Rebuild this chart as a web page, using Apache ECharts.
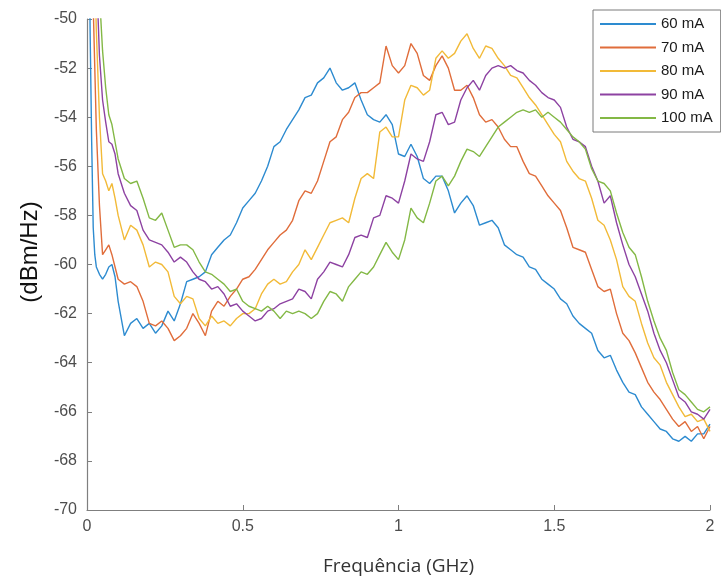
<!DOCTYPE html>
<html>
<head>
<meta charset="utf-8">
<script src="https://cdn.jsdelivr.net/npm/echarts@6/dist/echarts.min.js"></script>
<style>
html,body{margin:0;padding:0;background:#fff;}
#chart{width:721px;height:581px;}
</style>
</head>
<body>
<div id="chart"></div>
<script>
// Frequency grid (GHz)
const freq = [0.005,0.01,0.015,0.02,0.025,0.03,0.04,0.05,0.06,0.07,0.08,0.09,0.10,
  0.12,0.14,0.16,0.18,0.20,0.22,0.24,0.26,0.28,0.30,
  0.32,0.34,0.36,0.38,0.40,0.42,0.44,0.46,0.48,0.50,
  0.52,0.54,0.56,0.58,0.60,0.62,0.64,0.66,0.68,0.70,
  0.72,0.74,0.76,0.78,0.80,0.82,0.84,0.86,0.88,0.90,
  0.92,0.94,0.96,0.98,1.00,1.02,1.04,1.06,1.08,1.10,
  1.12,1.14,1.16,1.18,1.20,1.22,1.24,1.26,1.28,1.30,
  1.32,1.34,1.36,1.38,1.40,1.42,1.44,1.46,1.48,1.50,
  1.52,1.54,1.56,1.58,1.60,1.62,1.64,1.66,1.68,1.70,
  1.72,1.74,1.76,1.78,1.80,1.82,1.84,1.86,1.88,1.90,
  1.92,1.94,1.96,1.98,2.00];

const seriesNames = ['60 mA','70 mA','80 mA','90 mA','100 mA'];

const p60 = [-44,-50.5,-55,-58.5,-59.6,-60.1,-60.4,-60.6,-60.4,-60.1,-60.0,-60.5,-61.5,
  -62.9,-62.4,-62.2,-62.6,-62.4,-62.8,-62.5,-61.9,-62.3,-61.6,
  -60.7,-60.6,-60.5,-60.3,-59.6,-59.3,-59.0,-58.8,-58.3,-57.7,
  -57.4,-57.1,-56.6,-56.0,-55.2,-55.0,-54.5,-54.1,-53.7,-53.2,
  -53.1,-52.6,-52.4,-52.0,-52.6,-52.9,-52.8,-52.6,-53.3,-53.9,
  -54.1,-54.2,-53.9,-54.3,-55.5,-55.6,-55.1,-55.6,-56.5,-56.7,
  -56.4,-56.4,-57.0,-57.9,-57.5,-57.2,-57.6,-58.4,-58.3,-58.2,
  -58.5,-59.2,-59.4,-59.6,-59.7,-60.1,-60.2,-60.6,-60.8,-61.0,
  -61.4,-61.6,-62.1,-62.4,-62.6,-62.8,-63.5,-63.8,-63.7,-64.3,
  -64.8,-65.2,-65.3,-65.8,-66.1,-66.4,-66.7,-66.8,-67.1,-67.2,
  -67.0,-67.2,-66.9,-66.9,-66.5];

const p70 = [-40,-44,-47,-49.5,-52,-54.5,-57.6,-59.6,-59.4,-59.2,-59.6,-60.1,-60.6,
  -60.8,-60.7,-60.9,-61.5,-62.4,-62.5,-62.3,-62.6,-63.1,-62.9,
  -62.6,-62.0,-62.4,-62.9,-61.9,-61.5,-61.7,-61.3,-61.0,-60.6,
  -60.5,-60.2,-59.8,-59.4,-59.1,-58.8,-58.6,-58.2,-57.4,-57.0,
  -57.1,-56.6,-55.8,-55.0,-54.8,-54.1,-53.8,-53.2,-53.0,-53.0,
  -52.8,-52.6,-51.1,-51.9,-52.2,-51.9,-51.0,-51.4,-52.3,-52.5,
  -51.9,-51.5,-52.0,-52.9,-52.9,-52.7,-53.2,-53.9,-54.2,-54.1,
  -54.4,-54.9,-55.2,-55.2,-55.8,-56.3,-56.4,-56.8,-57.2,-57.5,
  -57.8,-58.5,-59.3,-59.4,-59.5,-60.2,-60.9,-61.1,-61.0,-62.0,
  -62.8,-63.1,-63.6,-64.2,-64.8,-65.2,-65.5,-65.9,-66.3,-66.6,
  -66.4,-66.8,-66.6,-67.1,-66.6];

const p80 = [-38,-40,-43,-45.5,-48,-50.5,-54,-56.3,-56.6,-57.0,-56.7,-57.3,-58.0,
  -59.0,-58.4,-58.6,-59.2,-60.1,-59.9,-60.0,-60.3,-61.3,-61.6,
  -61.3,-61.4,-62.2,-62.5,-62.1,-62.4,-62.3,-62.5,-62.2,-62.0,
  -62.0,-61.8,-61.2,-60.8,-60.6,-60.8,-60.7,-60.3,-60.0,-59.4,
  -59.8,-59.3,-58.8,-58.3,-58.2,-58.1,-58.3,-57.3,-56.5,-56.3,
  -56.5,-54.6,-54.4,-54.8,-54.8,-53.3,-52.7,-52.8,-53.1,-52.9,
  -51.6,-51.3,-51.6,-51.4,-50.9,-50.6,-51.2,-51.6,-51.1,-51.2,
  -51.6,-51.9,-52.3,-52.4,-52.8,-53.2,-53.5,-53.9,-54.3,-54.7,
  -55.0,-55.8,-56.2,-56.5,-56.6,-57.3,-58.2,-58.4,-59.0,-59.8,
  -60.9,-61.3,-61.5,-62.4,-63.2,-63.8,-64.1,-64.8,-65.3,-65.8,
  -66.2,-66.1,-66.4,-66.3,-66.8];

const p90 = [-36,-38,-40.5,-43,-45.5,-48,-51.5,-53.3,-54.2,-55.0,-55.1,-55.5,-56.3,
  -57.1,-57.6,-57.8,-58.6,-59.0,-59.1,-59.2,-59.5,-59.9,-59.7,
  -59.9,-60.3,-60.6,-60.7,-61.0,-60.9,-61.2,-61.7,-61.6,-61.9,
  -62.1,-62.3,-62.2,-61.9,-61.8,-61.6,-61.5,-61.4,-61.0,-61.1,
  -61.4,-60.6,-60.3,-59.9,-60.0,-60.1,-59.6,-58.9,-58.8,-58.9,
  -58.1,-58.0,-57.2,-57.3,-57.5,-56.6,-55.5,-55.7,-55.8,-55.0,
  -53.9,-53.8,-54.3,-54.2,-53.3,-52.8,-52.5,-52.9,-52.3,-52.0,
  -51.9,-52.0,-51.9,-52.1,-52.2,-52.5,-52.7,-53.0,-53.2,-53.3,
  -53.6,-54.4,-54.9,-55.0,-55.2,-56.0,-56.6,-57.5,-57.2,-58.3,
  -59.2,-60.0,-60.5,-61.2,-61.9,-62.8,-63.5,-64.0,-64.7,-65.4,
  -65.6,-66.0,-66.1,-66.3,-65.9];

const p100 = [-30,-33,-36,-39,-42,-45,-49.0,-51.3,-52.8,-53.9,-54.3,-55.0,-55.7,
  -56.5,-56.7,-56.6,-57.3,-58.1,-58.2,-57.9,-58.6,-59.3,-59.2,
  -59.2,-59.4,-59.9,-60.3,-60.4,-60.6,-60.8,-61.1,-61.0,-61.5,
  -61.7,-61.8,-61.9,-61.7,-61.9,-62.2,-61.9,-62.0,-61.9,-62.0,
  -62.2,-62.0,-61.5,-61.1,-61.2,-61.5,-60.9,-60.6,-60.3,-60.4,
  -60.1,-59.6,-59.1,-59.5,-59.8,-59.0,-57.7,-58.1,-58.3,-57.5,
  -56.6,-56.4,-56.8,-56.4,-55.8,-55.3,-55.4,-55.6,-55.2,-54.8,
  -54.4,-54.2,-54.0,-53.8,-53.7,-53.8,-53.7,-54.0,-53.8,-54.0,
  -54.2,-54.5,-54.8,-55.0,-55.3,-56.1,-56.6,-56.7,-57.0,-57.9,
  -58.7,-59.3,-59.6,-60.5,-61.5,-62.3,-63.0,-63.5,-64.4,-65.1,
  -65.3,-65.6,-65.9,-66.0,-65.8];

const xTicks = [0, 0.5, 1, 1.5, 2];
const yTicks = [-70,-68,-66,-64,-62,-60,-58,-56,-54,-52,-50];

const colors = ['#2d8bd0','#e06d3b','#f2ba38','#8d42a2','#83b845'];
const values = [p60, p70, p80, p90, p100];

const chart = echarts.init(document.getElementById('chart'), null, {renderer:'canvas'});
const option = {
  animation: false,
  backgroundColor: '#ffffff',
  color: colors,
  grid: { left: 87, right: 11, top: 19, bottom: 69, containLabel: false },
  legend: {
    data: seriesNames,
    orient: 'vertical',
    left: 593, top: 10,
    padding: [6, 8, 6, 7],
    itemWidth: 56, itemHeight: 2, itemGap: 7.5,
    icon: 'rect',
    borderColor: '#7a7a7a', borderWidth: 1,
    textStyle: { fontFamily: 'Liberation Sans', fontSize: 15, color: '#1a1a1a', lineHeight: 16, padding: [0,0,0,0] }
  },
  xAxis: {
    type: 'value', min: xTicks[0], max: xTicks[xTicks.length-1], interval: 0.5,
    name: 'Frequência (GHz)', nameLocation: 'middle', nameGap: 47,
    nameTextStyle: { fontFamily: 'Open Sans', fontSize: 19, color: '#333' },
    axisLine: { lineStyle: { color: '#7f7f7f', width: 1.2 } },
    axisTick: { inside: true, length: 5, lineStyle: { color: '#7f7f7f' } },
    axisLabel: { margin: 9, fontFamily: 'Liberation Sans', fontSize: 16, color: '#4d4d4d',
      formatter: v => String(v) },
    splitLine: { show: false }
  },
  yAxis: {
    type: 'value', min: yTicks[0], max: yTicks[yTicks.length-1], interval: 2,
    axisLine: { show: true, lineStyle: { color: '#7f7f7f', width: 1.2 } },
    axisTick: { show: true, inside: true, length: 5, lineStyle: { color: '#7f7f7f' } },
    axisLabel: { margin: 10, fontFamily: 'Liberation Sans', fontSize: 16, color: '#4d4d4d' },
    splitLine: { show: false }
  },
  graphic: [{
    type: 'text', x: 30, y: 252, rotation: Math.PI/2,
    style: { text: '(dBm/Hz)', fontFamily: 'Liberation Sans', fontSize: 24, fill: '#111',
      textAlign: 'center', textVerticalAlign: 'middle' }
  }],
  series: seriesNames.map((n, i) => ({
    name: n, type: 'line', showSymbol: false, symbol: 'none', clip: true,
    lineStyle: { width: 1.4, color: colors[i] },
    itemStyle: { color: colors[i] },
    data: freq.map((f, k) => [f, values[i][k]])
  }))
};
chart.setOption(option);
</script>
</body>
</html>
